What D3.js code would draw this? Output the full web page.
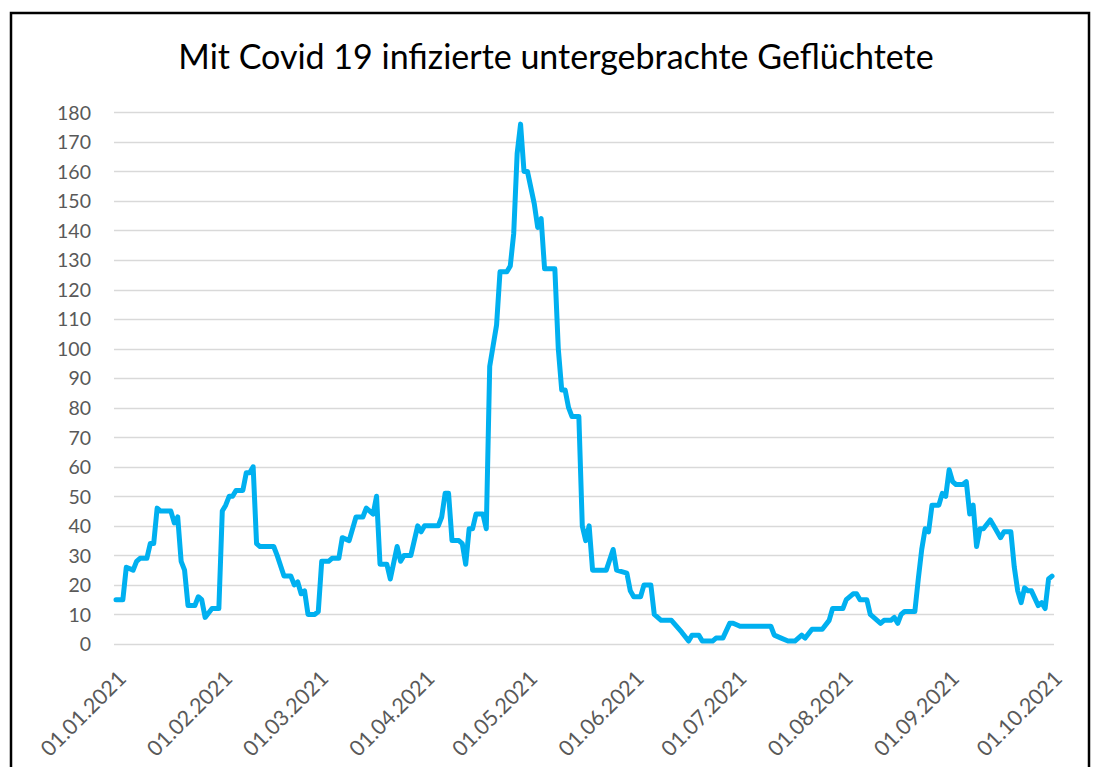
<!DOCTYPE html>
<html>
<head>
    <meta charset="utf-8">
    <title>Mit Covid 19 infizierte untergebrachte Geflüchtete</title>
    <script src="https://d3js.org/d3.v7.min.js" charset="utf-8"></script>
    <style>
        body { margin: 0; background: #fff; }
    </style>
</head>
<body>
    <script>
        // Werte (Knickpunkte der Linie)
        var dates = [
            "2021-01-01","2021-01-03","2021-01-04","2021-01-06","2021-01-07","2021-01-08","2021-01-10","2021-01-11",
            "2021-01-12","2021-01-13","2021-01-14","2021-01-17","2021-01-18","2021-01-19","2021-01-20","2021-01-21",
            "2021-01-22","2021-01-24","2021-01-25","2021-01-26","2021-01-27","2021-01-29","2021-01-31",
            "2021-02-01","2021-02-02","2021-02-03","2021-02-04","2021-02-05","2021-02-07","2021-02-08","2021-02-09",
            "2021-02-10","2021-02-11","2021-02-12","2021-02-16","2021-02-17","2021-02-19","2021-02-21","2021-02-22",
            "2021-02-23","2021-02-24","2021-02-25","2021-02-26","2021-02-28",
            "2021-03-01","2021-03-02","2021-03-04","2021-03-05","2021-03-07","2021-03-08","2021-03-10","2021-03-12",
            "2021-03-14","2021-03-15","2021-03-17","2021-03-18","2021-03-19","2021-03-21","2021-03-22","2021-03-24",
            "2021-03-25","2021-03-26","2021-03-28","2021-03-30","2021-03-31",
            "2021-04-01","2021-04-05","2021-04-06","2021-04-07","2021-04-08","2021-04-09","2021-04-11","2021-04-12",
            "2021-04-13","2021-04-14","2021-04-15","2021-04-16","2021-04-18","2021-04-19","2021-04-20","2021-04-21",
            "2021-04-22","2021-04-23","2021-04-25","2021-04-26","2021-04-27","2021-04-28","2021-04-29","2021-04-30",
            "2021-05-01","2021-05-03","2021-05-04","2021-05-05","2021-05-06","2021-05-09","2021-05-10","2021-05-11",
            "2021-05-12","2021-05-13","2021-05-14","2021-05-16","2021-05-17","2021-05-18","2021-05-19","2021-05-20",
            "2021-05-24","2021-05-26","2021-05-27","2021-05-30","2021-05-31",
            "2021-06-01","2021-06-03","2021-06-04","2021-06-06","2021-06-07","2021-06-09","2021-06-12","2021-06-15",
            "2021-06-17","2021-06-18","2021-06-20","2021-06-21","2021-06-24","2021-06-25","2021-06-27","2021-06-29",
            "2021-06-30",
            "2021-07-02","2021-07-11","2021-07-12","2021-07-14","2021-07-16","2021-07-18","2021-07-20","2021-07-21",
            "2021-07-23","2021-07-26","2021-07-28","2021-07-29",
            "2021-08-01","2021-08-02","2021-08-04","2021-08-05","2021-08-06","2021-08-08","2021-08-09","2021-08-10",
            "2021-08-12","2021-08-13","2021-08-15","2021-08-16","2021-08-17","2021-08-18","2021-08-19","2021-08-22",
            "2021-08-23","2021-08-24","2021-08-25","2021-08-26","2021-08-27","2021-08-29","2021-08-30","2021-08-31",
            "2021-09-01","2021-09-02","2021-09-03","2021-09-05","2021-09-06","2021-09-07","2021-09-08","2021-09-09",
            "2021-09-10","2021-09-11","2021-09-13","2021-09-14","2021-09-16","2021-09-17","2021-09-19","2021-09-20",
            "2021-09-21","2021-09-22","2021-09-23","2021-09-24","2021-09-25","2021-09-27","2021-09-28","2021-09-29",
            "2021-09-30",
            "2021-10-01"
        ];
        var values = [
            15,15,26,25,28,29,29,34,
            34,46,45,45,41,43,28,25,
            13,13,16,15,9,12,12,
            45,47,50,50,52,52,58,58,
            60,34,33,33,30,23,23,20,
            21,17,18,10,10,
            11,28,28,29,29,36,35,43,
            43,46,44,50,27,27,22,33,
            28,30,30,40,38,
            40,40,43,51,51,35,35,34,
            27,39,39,44,44,39,94,101,
            108,126,126,128,139,166,176,160,
            160,149,141,144,127,127,100,86,
            86,80,77,77,40,35,40,25,
            25,32,25,24,18,
            16,16,20,20,10,8,8,4,
            1,3,3,1,1,2,2,7,
            7,
            6,6,3,2,1,1,3,2,
            5,5,8,12,
            12,15,17,17,15,15,10,9,
            7,8,8,9,7,10,11,11,
            22,32,39,38,47,47,51,50,
            59,55,54,54,55,44,47,33,
            39,39,42,40,36,38,38,26,
            18,14,19,18,18,13,14,12,
            22,
            23
        ];

        // Achsenbeschriftungen
        var tickDates = ["2021-01-01","2021-02-01","2021-03-01","2021-04-01","2021-05-01",
                         "2021-06-01","2021-07-01","2021-08-01","2021-09-01","2021-10-01"];
        var yTicks = [0,10,20,30,40,50,60,70,80,90,100,110,120,130,140,150,160,170,180];
        var title = "Mit Covid 19 infizierte untergebrachte Geflüchtete";

        var parse = d3.utcParse("%Y-%m-%d");
        var fmt = d3.utcFormat("%d.%m.%Y");
        var data = dates.map(function(d, i){ return {date: parse(d), value: values[i]}; });

        var width = 1093, height = 767;
        var svg = d3.select("body")
            .append("svg")
            .attr("width", width)
            .attr("height", height);

        // Rahmen
        svg.append("rect")
            .attr("x", 11)
            .attr("y", 13)
            .attr("width", 1078)
            .attr("height", 780)
            .attr("fill", "#fff")
            .attr("stroke", "#000")
            .attr("stroke-width", 2.5);

        var x = d3.scaleUtc()
            .domain([parse(tickDates[0]), parse(tickDates[tickDates.length - 1])])
            .range([116, 1052]);
        var y = d3.scaleLinear()
            .domain([0, 180])
            .range([644, 112.3]);

        // Gitterlinien + y-Achse
        var yAxis = svg.append("g")
            .attr("transform", "translate(114,0)")
            .call(d3.axisLeft(y).tickValues(yTicks).tickSize(0).tickPadding(0).tickFormat(d3.format("d")));
        yAxis.select(".domain").remove();
        yAxis.selectAll("text")
            .attr("x", -23)
            .attr("dy", "0.35em")
            .style("font-family", "Lato, 'Open Sans', sans-serif")
            .style("font-size", "19.5px")
            .attr("fill", "#595959");

        svg.append("g").selectAll("line")
            .data(yTicks)
            .enter()
            .append("line")
            .attr("x1", 114)
            .attr("x2", 1054)
            .attr("y1", function(d){ return Math.round(y(d)) + 0.5; })
            .attr("y2", function(d){ return Math.round(y(d)) + 0.5; })
            .attr("stroke", "#d9d9d9")
            .attr("stroke-width", 1.3);

        // x-Achse, gedrehte Datumslabels
        var xAxis = svg.append("g")
            .attr("transform", "translate(0,644)")
            .call(d3.axisBottom(x).tickValues(tickDates.map(parse)).tickSize(0).tickFormat(fmt));
        xAxis.select(".domain").remove();
        xAxis.selectAll("text")
            .attr("text-anchor", "end")
            .attr("dy", 0)
            .attr("y", 0)
            .attr("transform", "translate(11,36) rotate(-45)")
            .style("font-family", "Lato, 'Open Sans', sans-serif")
            .style("font-size", "21.5px")
            .attr("fill", "#595959");

        // Linie
        var line = d3.line()
            .x(function(d){ return x(d.date); })
            .y(function(d){ return y(d.value); });

        svg.append("path")
            .datum(data)
            .attr("d", line)
            .attr("fill", "none")
            .attr("stroke", "#00b0f0")
            .attr("stroke-width", 5)
            .attr("stroke-linejoin", "round")
            .attr("stroke-linecap", "round");

        // Titel
        svg.append("text")
            .text(title)
            .attr("x", 556)
            .attr("y", 69)
            .attr("text-anchor", "middle")
            .style("font-family", "Lato, 'Open Sans', sans-serif")
            .style("font-size", "34px")
            .attr("fill", "#000");
    </script>
</body>
</html>
